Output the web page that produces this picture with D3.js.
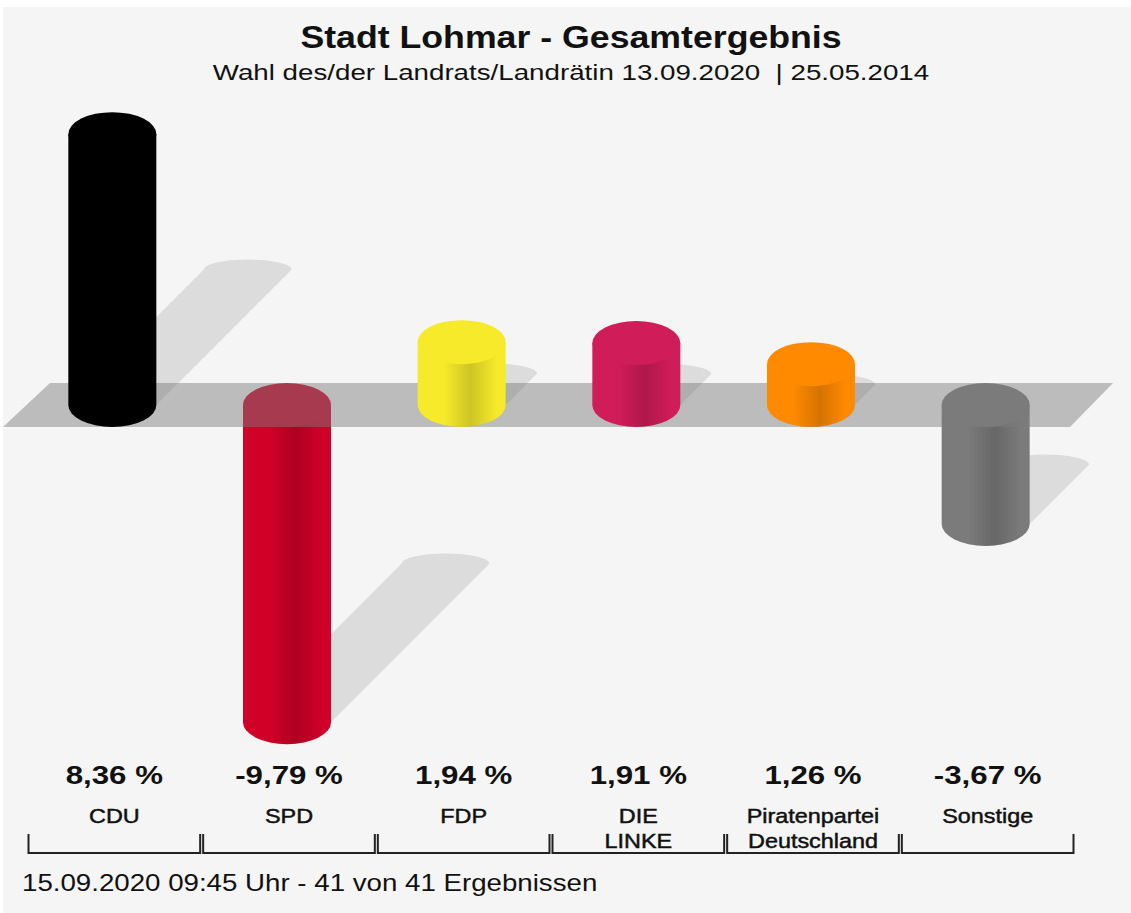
<!DOCTYPE html>
<html>
<head>
<meta charset="utf-8">
<script src="https://cdn.jsdelivr.net/npm/d3@7"></script>
<style>
  body { margin: 0; background: #fff; }
  text { font-family: "Liberation Sans", Arial, sans-serif; fill: #111; white-space: pre; }
</style>
</head>
<body>
<svg id="chart" width="1131" height="913"></svg>
<script>
const parties = ["CDU", "SPD", "FDP", "DIE LINKE", "Piratenpartei Deutschland", "Sonstige"];
const partyLines = [["CDU"], ["SPD"], ["FDP"], ["DIE", "LINKE"], ["Piratenpartei", "Deutschland"], ["Sonstige"]];
const changes = [8.36, -9.79, 1.94, 1.91, 1.26, -3.67];
const partyColors = ["#000000", "#d00028", "#f6ea2b", "#d11c5a", "#ff8a00", "#7b7b7b"];
const title = "Stadt Lohmar - Gesamtergebnis";
const subtitle = "Wahl des/der Landrats/Landrätin 13.09.2020  | 25.05.2014";
const footer = "15.09.2020 09:45 Uhr - 41 von 41 Ergebnissen";

const svg = d3.select("#chart");
const data = parties.map((p, i) => ({ party: p, lines: partyLines[i], value: changes[i], color: partyColors[i] }));

const de = d3.formatLocale({ decimal: ",", thousands: ".", grouping: [3], currency: ["", " €"], minus: "-" });
const fmt = (v) => de.format(".2f")(v) + " %";

// scales
const x = d3.scaleBand().domain(parties).range([27, 1075]).padding(0);
const y = d3.scaleLinear().domain([-10, 10]).range([729, 81]);
const rx = 44, ry = 22;
const cxOf = (d) => x(d.party) + x.bandwidth() / 2 - 2;

// background panel
svg.append("rect").attr("x", 3).attr("y", 7).attr("width", 1128).attr("height", 906).attr("fill", "#f5f5f5");

// gradients for cylinder bodies
const defs = svg.append("defs");
data.forEach((d, i) => {
  const base = d3.color(d.color);
  const dark = d3.color(d.color).darker(0.5);
  const grad = defs.append("linearGradient").attr("id", "g" + i).attr("x1", 0).attr("x2", 1).attr("y1", 0).attr("y2", 0);
  [[0, base], [0.3, base], [0.6, dark], [0.9, base], [1, base]].forEach(([o, c]) =>
    grad.append("stop").attr("offset", o).attr("stop-color", c.formatHex()));
});

// text helper, stretched horizontally like the original
function label(g, tx, ty, str, size, weight, anchor, sx) {
  return g.append("text")
    .attr("transform", `translate(${tx},${ty}) scale(${sx},1)`)
    .attr("text-anchor", anchor)
    .style("font-size", size + "px")
    .style("font-weight", weight)
    .text(str);
}

// shadows
const y0 = y(0);
const shadow = (d) => {
  const cx = cxOf(d);
  const h = Math.abs(y(d.value) - y0);
  const s = h * 0.5;
  const yl = Math.max(y(d.value), y0);
  return `M${cx - rx},${yl}L${cx - rx + s},${yl - s}A${rx},10 0 0 1 ${cx + rx + s},${yl - s}` +
    `L${cx + rx},${yl}A${rx},${ry} 0 0 1 ${cx - rx},${yl}Z`;
};
svg.append("g").selectAll("path").data(data).join("path")
  .attr("d", shadow).attr("fill", "#000").attr("fill-opacity", 0.1);

// cylinders
function drawBars(g, rows) {
  const bar = g.selectAll("g").data(rows).join("g");
  bar.append("path")
    .attr("d", (d) => {
      const cx = cxOf(d);
      const yt = y(Math.max(d.value, 0));
      const yb = y(Math.min(d.value, 0));
      return `M${cx - rx},${yt}L${cx - rx},${yb}A${rx},${ry} 0 0 0 ${cx + rx},${yb}L${cx + rx},${yt}Z`;
    })
    .attr("fill", (d) => "url(#g" + data.indexOf(d) + ")");
  bar.append("ellipse")
    .attr("cx", cxOf).attr("cy", (d) => y(Math.max(d.value, 0)))
    .attr("rx", rx).attr("ry", ry)
    .attr("fill", (d) => d.color);
}

drawBars(svg.append("g"), data.filter((d) => d.value < 0));

// floor band through zero
const [r0, r1] = x.range();
svg.append("path")
  .attr("d", `M${r0 - 24},${y0 + ry}L${r0 + 23},${y0 - ry}L${r1 + 38},${y0 - ry}L${r1 - 5},${y0 + ry}Z`)
  .attr("fill", "#7b7b7b").attr("fill-opacity", 0.47);

drawBars(svg.append("g"), data.filter((d) => d.value >= 0));

// titles
label(svg, 571, 48, title, 30.5, "bold", "middle", 1.17);
label(svg, 571, 80, subtitle, 22, "normal", "middle", 1.26);

// values and party names
const lab = svg.append("g");
data.forEach((d) => {
  const cx = x(d.party) + x.bandwidth() / 2;
  label(lab, cx, 784, fmt(d.value), 25, "bold", "middle", 1.25);
  d.lines.forEach((t, j) =>
    label(lab, cx, 823 + j * 25, t, 19.5, "normal", "middle", 1.2)
      .style("stroke", "#111").style("stroke-width", 0.45));
});

// brackets
svg.append("g").selectAll("path").data(data).join("path")
  .attr("d", (d) => {
    const a = x(d.party) + 1.5, b = x(d.party) + x.bandwidth() - 1.5;
    return `M${a},834V853H${b}V834`;
  })
  .attr("fill", "none").attr("stroke", "#222").attr("stroke-width", 2);

label(svg, 22, 891, footer, 24.5, "normal", "start", 1.13);
</script>
</body>
</html>
